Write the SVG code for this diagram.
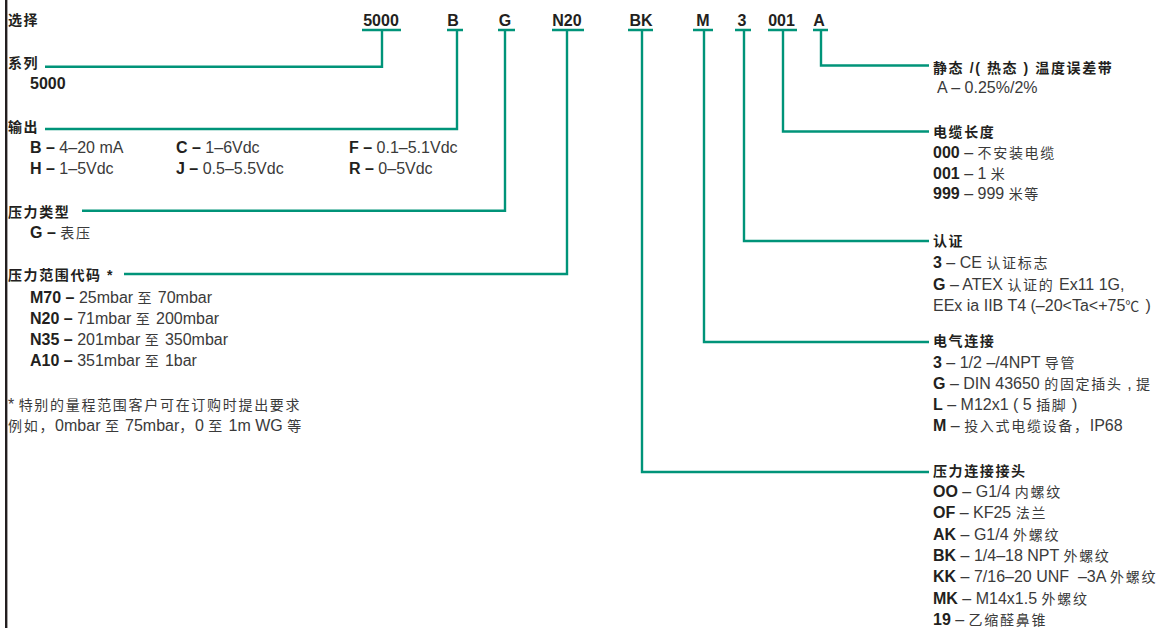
<svg xmlns="http://www.w3.org/2000/svg" width="1158" height="628" viewBox="0 0 1158 628">
<style>
text{font-family:"Liberation Sans","Noto Sans CJK SC",sans-serif;font-size:16px;fill:#3a3a3a}
.code{font-weight:bold;fill:#231f20;text-anchor:middle}
.h{font-weight:bold;font-size:14px;letter-spacing:1.6px;fill:#231f20}
.b{font-weight:bold;fill:#231f20}
.c{font-size:14px;letter-spacing:1.7px}
.ln{fill:none;stroke:#009479;stroke-width:2.4;stroke-linejoin:miter;stroke-linecap:butt}
</style>
<rect x="0" y="0" width="1158" height="628" fill="#ffffff"/>
<rect x="5" y="0" width="2.4" height="628" fill="#231f20"/>
<g id="connectors">
<path class="ln" d="M362,30 H401 M382,30 V66.7 H45"/>
<path class="ln" d="M447,30 H463 M457,30 V129 H45"/>
<path class="ln" d="M498,30 H515 M505,30 V210.7 H82"/>
<path class="ln" d="M552,30 H584 M567,30 V274 H124"/>
<path class="ln" d="M628,30 H653 M642,30 V472 H929"/>
<path class="ln" d="M693,30 H713 M704,30 V342 H929"/>
<path class="ln" d="M735,30 H751 M744,30 V241 H929"/>
<path class="ln" d="M768,30 H797 M783,30 V131.5 H929"/>
<path class="ln" d="M813,30 H828 M821,30 V65.5 H929"/>
</g>
<g id="codes">
<text x="8" y="25" class="h">选择</text>
<text x="381" y="26" class="code">5000</text>
<text x="453" y="26" class="code">B</text>
<text x="505" y="26" class="code">G</text>
<text x="567" y="26" class="code">N20</text>
<text x="641" y="26" class="code">BK</text>
<text x="703" y="26" class="code">M</text>
<text x="742" y="26" class="code">3</text>
<text x="781.5" y="26" class="code">001</text>
<text x="819" y="26" class="code">A</text>
</g>
<g id="series">
<text x="8" y="68" class="h">系列</text>
<text x="30" y="89" class="b">5000</text>
</g>
<g id="output">
<text x="8" y="131.5" class="h">输出</text>
<text x="30" y="153"><tspan class="b">B –</tspan> 4–20 mA</text>
<text x="176" y="153"><tspan class="b">C –</tspan> 1–6Vdc</text>
<text x="349" y="153"><tspan class="b">F –</tspan> 0.1–5.1Vdc</text>
<text x="30" y="174"><tspan class="b">H –</tspan> 1–5Vdc</text>
<text x="176" y="174"><tspan class="b">J –</tspan> 0.5–5.5Vdc</text>
<text x="349" y="174"><tspan class="b">R –</tspan> 0–5Vdc</text>
</g>
<g id="pressure-type">
<text x="8" y="216.5" class="h">压力类型</text>
<text x="30" y="238"><tspan class="b">G –</tspan> <tspan class="c">表压</tspan></text>
</g>
<g id="pressure-range">
<text x="8" y="279.5" class="h">压力范围代码 *</text>
<text x="30" y="302.5"><tspan class="b">M70 –</tspan> 25mbar <tspan class="c">至</tspan> 70mbar</text>
<text x="30" y="323.5"><tspan class="b">N20 –</tspan> 71mbar <tspan class="c">至</tspan> 200mbar</text>
<text x="30" y="344.5"><tspan class="b">N35 –</tspan> 201mbar <tspan class="c">至</tspan> 350mbar</text>
<text x="30" y="365.5"><tspan class="b">A10 –</tspan> 351mbar <tspan class="c">至</tspan> 1bar</text>
<text x="8" y="409.5">* <tspan class="c">特别的量程范围客户可在订购时提出要求</tspan></text>
<text x="8" y="430.5"><tspan class="c">例如，</tspan>0mbar <tspan class="c">至</tspan> 75mbar<tspan class="c">，</tspan>0 <tspan class="c">至</tspan> 1m WG <tspan class="c">等</tspan></text>
</g>
<g id="temp-band">
<text x="933" y="72.5" class="h">静态 /( 热态 ) 温度误差带</text>
<text x="937" y="93">A – 0.25%/2%</text>
</g>
<g id="cable-length">
<text x="933" y="136.5" class="h">电缆长度</text>
<text x="933" y="158"><tspan class="b">000</tspan> – <tspan class="c">不安装电缆</tspan></text>
<text x="933" y="178.5"><tspan class="b">001</tspan> – 1 <tspan class="c">米</tspan></text>
<text x="933" y="199"><tspan class="b">999</tspan> – 999 <tspan class="c">米等</tspan></text>
</g>
<g id="approval">
<text x="933" y="246" class="h">认证</text>
<text x="933" y="268"><tspan class="b">3</tspan> – CE <tspan class="c">认证标志</tspan></text>
<text x="933" y="289.5"><tspan class="b">G</tspan> – ATEX <tspan class="c">认证的</tspan> Ex11 1G,</text>
<text x="933" y="310.5">EEx ia IIB T4 (–20&lt;Ta&lt;+75<tspan class="c">℃</tspan> )</text>
</g>
<g id="electrical">
<text x="933" y="345.5" class="h">电气连接</text>
<text x="933" y="367.5"><tspan class="b">3</tspan> – 1/2 –/4NPT <tspan class="c">导管</tspan></text>
<text x="933" y="389"><tspan class="b">G</tspan> – DIN 43650 <tspan class="c">的固定插头</tspan> , <tspan class="c">提</tspan></text>
<text x="933" y="410"><tspan class="b">L</tspan> – M12x1 ( 5 <tspan class="c">插脚</tspan> )</text>
<text x="933" y="431"><tspan class="b">M</tspan> – <tspan class="c">投入式电缆设备，</tspan>IP68</text>
</g>
<g id="pressure-connection">
<text x="933" y="476" class="h">压力连接接头</text>
<text x="933" y="496.5"><tspan class="b">OO</tspan> – G1/4 <tspan class="c">内螺纹</tspan></text>
<text x="933" y="518"><tspan class="b">OF</tspan> – KF25 <tspan class="c">法兰</tspan></text>
<text x="933" y="539.5"><tspan class="b">AK</tspan> – G1/4 <tspan class="c">外螺纹</tspan></text>
<text x="933" y="560.5"><tspan class="b">BK</tspan> – 1/4–18 NPT <tspan class="c">外螺纹</tspan></text>
<text x="933" y="582"><tspan class="b">KK</tspan> – 7/16–20 UNF&#160; –3A <tspan class="c">外螺纹</tspan></text>
<text x="933" y="603.5"><tspan class="b">MK</tspan> – M14x1.5 <tspan class="c">外螺纹</tspan></text>
<text x="933" y="624.5"><tspan class="b">19</tspan> – <tspan class="c">乙缩醛鼻锥</tspan></text>
</g>
</svg>
